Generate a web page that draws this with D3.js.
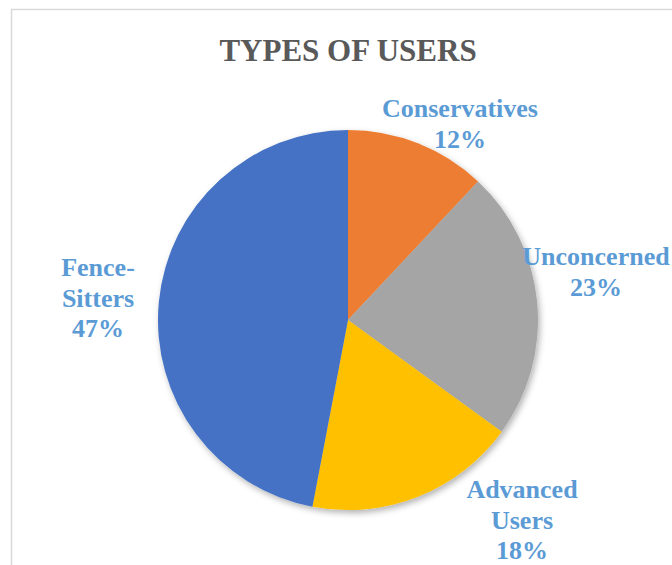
<!DOCTYPE html>
<html lang="en">
<head>
<meta charset="utf-8">
<script src="https://d3js.org/d3.v7.min.js"></script>
<style>
  body { margin: 0; background: #fff; }
  text { font-family: "Liberation Serif", "Times New Roman", serif; font-weight: bold; }
</style>
</head>
<body>
<script>
// chart data
var categories = ["Conservatives", "Unconcerned", "Advanced Users", "Fence-Sitters"];
var values = [12, 23, 18, 47];
var colors = ["#ED7D31", "#A5A5A5", "#FFC000", "#4472C4"];
// label lines as Excel wrapped them
var labelLines = [["Conservatives"], ["Unconcerned"], ["Advanced", "Users"], ["Fence-", "Sitters"]];
// label centres (layout, chosen by Excel's best fit)
var labelPos = [[460, 117], [596, 265], [522, 498], [98, 276]];

var width = 672, height = 565;
var cx = 348, cy = 320, radius = 190;

var svg = d3.select("body").append("svg")
    .attr("width", width).attr("height", height);

// chart frame
svg.append("rect")
    .attr("x", 11.5).attr("y", 9.5)
    .attr("width", 700).attr("height", 600)
    .attr("fill", "#fff")
    .attr("stroke", "#d9d9d9").attr("stroke-width", 1.5);

var defs = svg.append("defs");
var f = defs.append("filter").attr("id", "shadow")
    .attr("x", "-20%").attr("y", "-20%").attr("width", "140%").attr("height", "140%");
f.append("feDropShadow")
    .attr("dx", 2).attr("dy", 3).attr("stdDeviation", 3)
    .attr("flood-color", "#000").attr("flood-opacity", 0.3);

svg.append("text")
    .attr("x", cx).attr("y", 61)
    .attr("text-anchor", "middle")
    .attr("font-size", 31)
    .attr("fill", "#595959")
    .text("TYPES OF USERS");

var pie = d3.pie().sort(null).value(function(d) { return d; });
var arc = d3.arc().innerRadius(0).outerRadius(radius);
var arcs = pie(values);

var g = svg.append("g")
    .attr("transform", "translate(" + cx + "," + cy + ")")
    .attr("filter", "url(#shadow)");

g.selectAll("path")
    .data(arcs)
    .join("path")
    .attr("d", arc)
    .attr("fill", function(d, i) { return colors[i]; });

// labels
var lineH = 30.5;
arcs.forEach(function(d, i) {
    var lines = labelLines[i].concat([d.value + "%"]);
    var t = svg.append("text")
        .attr("text-anchor", "middle")
        .attr("font-size", 26)
        .attr("fill", "#5B9BD5");
    lines.forEach(function(s, j) {
        t.append("tspan")
            .attr("x", labelPos[i][0])
            .attr("y", labelPos[i][1] + j * lineH)
            .text(s);
    });
});
</script>
</body>
</html>
